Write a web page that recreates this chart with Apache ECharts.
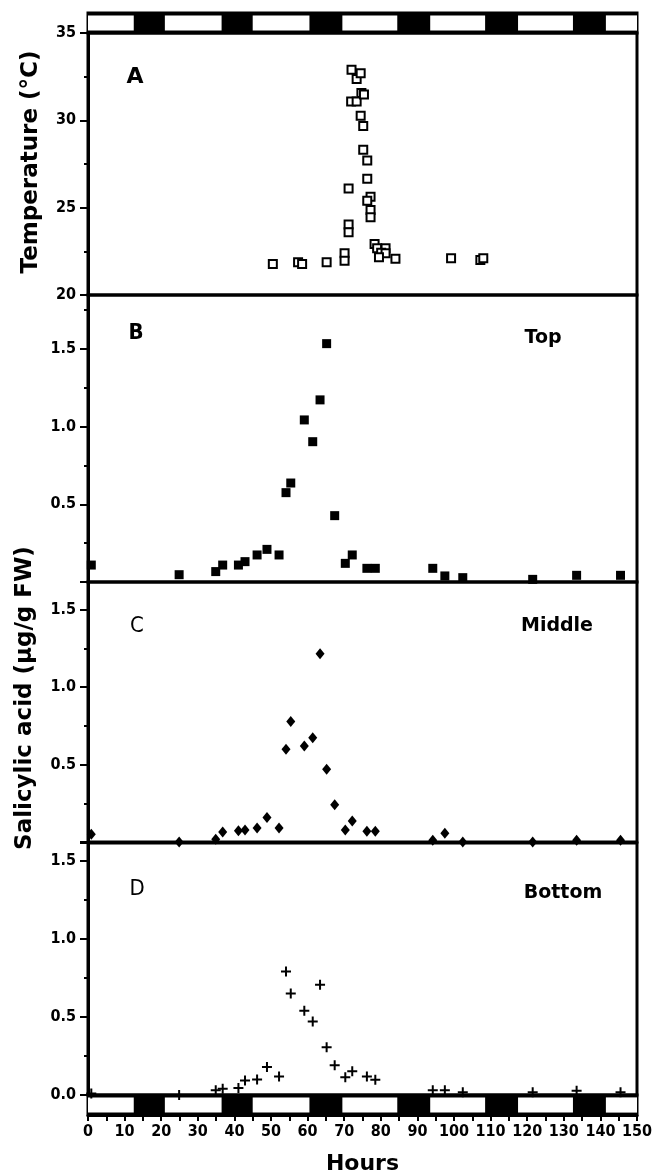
<!DOCTYPE html>
<html lang="en">
<head>
<meta charset="UTF-8">
<title>salicylic acid</title>
<script src="https://cdn.jsdelivr.net/npm/echarts@6/dist/echarts.min.js"></script>
<style>
html, body { margin: 0; padding: 0; background: #fff; }
#main { width: 654px; height: 1173px; }
</style>
</head>
<body>
<div id="main"></div>
<script>
// panel A: temperature readings
var tempHours = [50.5, 57.4, 58.5, 65.2, 70.1, 70.1, 71.2, 71.2, 71.2, 72.0, 73.4, 74.5, 71.9, 73.4, 74.7, 75.4,
    74.5, 75.2, 75.2, 76.3, 76.3, 77.2, 76.3, 77.2, 77.2, 78.3, 79.0, 81.3, 80.1, 81.3, 79.5, 84.0, 99.2, 107.2, 108.0];
var tempValues = [21.78, 21.87, 21.78, 21.88, 22.39, 21.96, 26.1, 24.03, 23.59, 32.9, 32.36, 32.7, 31.08, 31.08, 31.56, 31.48,
    30.26, 29.68, 28.31, 27.7, 26.66, 25.63, 25.4, 24.87, 24.45, 22.92, 22.67, 22.67, 22.42, 22.39, 22.16, 22.08, 22.1, 22.0, 22.1];

// panels B-D: salicylic acid, same sampling times
var saHours = [0.9, 24.9, 34.9, 36.8, 41.1, 42.9, 46.2, 48.9, 52.2, 54.1, 55.4, 59.1, 61.4, 63.4, 65.2, 67.4,
    70.3, 72.2, 76.2, 78.5, 94.2, 97.5, 102.4, 121.5, 133.5, 145.5];
var topValues = [0.109, 0.047, 0.067, 0.109, 0.109, 0.131, 0.174, 0.21, 0.174, 0.575, 0.637, 1.043, 0.903, 1.172, 1.534, 0.427,
    0.12, 0.174, 0.088, 0.088, 0.088, 0.039, 0.028, 0.017, 0.043, 0.043];
var middleValues = [0.05, 0.0, 0.017, 0.065, 0.072, 0.078, 0.091, 0.159, 0.091, 0.6, 0.778, 0.62, 0.674, 1.217, 0.47, 0.241,
    0.078, 0.135, 0.07, 0.07, 0.011, 0.057, 0.0, 0.0, 0.011, 0.011];
var bottomValues = [0.01, 0.0, 0.03, 0.04, 0.045, 0.093, 0.1, 0.18, 0.119, 0.79, 0.65, 0.54, 0.47, 0.705, 0.305, 0.19,
    0.114, 0.152, 0.119, 0.097, 0.03, 0.03, 0.017, 0.017, 0.028, 0.017];

// dark periods of the light cycle (hours)
var darkStart = [12.5, 36.5, 60.5, 84.5, 108.5, 132.5];
var darkEnd = [21, 45, 69.5, 93.5, 117.5, 141.5];

var panelLetters = ['A', 'B', 'C', 'D'];
var panelNames = ['Top', 'Middle', 'Bottom'];

var FONT = "'DejaVu Sans Condensed','Liberation Sans Narrow','DejaVu Sans',sans-serif";
var FONT_W = "'DejaVu Sans',sans-serif";

function zip(xs, ys) {
    var out = [];
    for (var i = 0; i < xs.length; i++) out.push([xs[i], ys[i]]);
    return out;
}

// white boxes = light periods
var lightAreas = [];
var prev = 0;
for (var i = 0; i < darkStart.length; i++) {
    lightAreas.push([{xAxis: prev, yAxis: 0.12}, {xAxis: darkStart[i], yAxis: 0.88}]);
    prev = darkEnd[i];
}
lightAreas.push([{xAxis: prev, yAxis: 0.12}, {xAxis: 150, yAxis: 0.88}]);

function halfFmt(withZero) {
    return function (v) {
        var k = v * 2;
        if (Math.abs(k - Math.round(k)) > 1e-6) return '';
        if (v === 0 && !withZero) return '';
        return v.toFixed(1);
    };
}

function majorY(grid, min, max, interval, fmt) {
    return {
        type: 'value', gridIndex: grid, position: 'left', min: min, max: max, interval: interval,
        axisLine: {show: true, lineStyle: {color: '#000', width: 3}},
        axisTick: {show: true, length: 8, lineStyle: {color: '#000', width: 2}},
        axisLabel: {show: true, color: '#000', fontFamily: FONT, fontWeight: 'bold', fontSize: 16, margin: 12, formatter: fmt},
        splitLine: {show: false}
    };
}
function minorY(grid, min, max, interval) {
    return {
        type: 'value', gridIndex: grid, position: 'left', min: min, max: max, interval: interval,
        axisLine: {show: false},
        axisTick: {show: true, length: 4, lineStyle: {color: '#000', width: 2}},
        axisLabel: {show: false},
        splitLine: {show: false}
    };
}
function hiddenX(grid) {
    return {type: 'value', gridIndex: grid, min: 0, max: 150, show: false, splitLine: {show: false}};
}

var gridBase = {left: 88, width: 549, show: true, borderColor: '#000', borderWidth: 3, containLabel: false, outerBoundsMode: 'none'};
function grid(top, height, bg) {
    var g = Object.assign({}, gridBase, {top: top, height: height});
    g.backgroundColor = bg || 'transparent';
    return g;
}

var option = {
    animation: false,
    backgroundColor: '#fff',
    grid: [
        grid(13, 20, '#000'),
        grid(33, 262),
        grid(295, 287),
        grid(582, 260),
        grid(843, 252),
        grid(1095, 20, '#000')
    ],
    xAxis: [
        hiddenX(0), hiddenX(1), hiddenX(2), hiddenX(3), hiddenX(4),
        {
            type: 'value', gridIndex: 5, min: 0, max: 150, interval: 5, position: 'bottom',
            axisLine: {show: true, lineStyle: {color: '#000', width: 3}},
            axisTick: {show: true, length: 6, lineStyle: {color: '#000', width: 2}},
            axisLabel: {
                color: '#000', fontFamily: FONT, fontWeight: 'bold', fontSize: 16, margin: 9,
                formatter: function (v) { return v % 10 === 0 ? String(v) : ''; }
            },
            splitLine: {show: false},
            name: 'Hours', nameLocation: 'middle', nameGap: 38,
            nameTextStyle: {color: '#000', fontFamily: FONT_W, fontWeight: 'bold', fontSize: 22}
        }
    ],
    yAxis: [
        {type: 'value', gridIndex: 0, min: 0, max: 1, show: false},
        majorY(1, 20, 35, 5, function (v) { return v % 5 === 0 ? String(v) : ''; }),
        minorY(1, 20, 35, 2.5),
        majorY(2, 0, 1.847, 0.5, halfFmt(false)),
        minorY(2, 0, 1.847, 0.25),
        majorY(3, 0, 1.68, 0.5, halfFmt(false)),
        minorY(3, 0, 1.68, 0.25),
        majorY(4, 0, 1.613, 0.5, halfFmt(true)),
        minorY(4, 0, 1.613, 0.25),
        {type: 'value', gridIndex: 5, min: 0, max: 1, show: false}
    ],
    series: [
        {
            type: 'scatter', xAxisIndex: 0, yAxisIndex: 0, data: [], silent: true,
            markArea: {silent: true, itemStyle: {color: '#fff', borderWidth: 0}, data: lightAreas}
        },
        {
            type: 'scatter', xAxisIndex: 5, yAxisIndex: 9, data: [], silent: true,
            markArea: {silent: true, itemStyle: {color: '#fff', borderWidth: 0}, data: lightAreas}
        },
        {
            name: 'Temperature', type: 'scatter', xAxisIndex: 1, yAxisIndex: 1,
            symbol: 'rect', symbolSize: 8, clip: false,
            itemStyle: {color: '#fff', borderColor: '#000', borderWidth: 2, opacity: 1},
            data: zip(tempHours, tempValues)
        },
        {
            name: 'Top', type: 'scatter', xAxisIndex: 2, yAxisIndex: 3,
            symbol: 'rect', symbolSize: 9, clip: false,
            itemStyle: {color: '#000', opacity: 1},
            data: zip(saHours, topValues)
        },
        {
            name: 'Middle', type: 'scatter', xAxisIndex: 3, yAxisIndex: 5,
            symbol: 'diamond', symbolSize: [9, 11], clip: false,
            itemStyle: {color: '#000', opacity: 1},
            data: zip(saHours, middleValues)
        },
        {
            name: 'Bottom', type: 'scatter', xAxisIndex: 4, yAxisIndex: 7,
            symbol: 'path://M4,0H6V4H10V6H6V10H4V6H0V4H4Z', symbolSize: 10, clip: false,
            itemStyle: {color: '#000', opacity: 1},
            data: zip(saHours, bottomValues)
        }
    ],
    graphic: [
        {type: 'text', x: 31, y: 162, rotation: Math.PI / 2,
            style: {text: 'Temperature (°C)', font: "bold 23px " + FONT_W, fill: '#000', align: 'center', verticalAlign: 'middle'}},
        {type: 'text', x: 25, y: 698, rotation: Math.PI / 2,
            style: {text: 'Salicylic acid (µg/g FW)', font: "bold 23px " + FONT_W, fill: '#000', align: 'center', verticalAlign: 'middle'}},
        {type: 'text', x: 135, y: 77, style: {text: panelLetters[0], font: "bold 22px " + FONT_W, fill: '#000', align: 'center', verticalAlign: 'middle'}},
        {type: 'text', x: 136, y: 333, style: {text: panelLetters[1], font: "bold 22px " + FONT, fill: '#000', align: 'center', verticalAlign: 'middle'}},
        {type: 'text', x: 137, y: 626, style: {text: panelLetters[2], font: "22px " + FONT, fill: '#000', align: 'center', verticalAlign: 'middle'}},
        {type: 'text', x: 137, y: 889, style: {text: panelLetters[3], font: "22px " + FONT, fill: '#000', align: 'center', verticalAlign: 'middle'}},
        {type: 'text', x: 543, y: 338, style: {text: panelNames[0], font: "bold 19px " + FONT_W, fill: '#000', align: 'center', verticalAlign: 'middle'}},
        {type: 'text', x: 557, y: 626, style: {text: panelNames[1], font: "bold 19px " + FONT_W, fill: '#000', align: 'center', verticalAlign: 'middle'}},
        {type: 'text', x: 563, y: 893, style: {text: panelNames[2], font: "bold 19px " + FONT_W, fill: '#000', align: 'center', verticalAlign: 'middle'}}
    ]
};

var chart = echarts.init(document.getElementById('main'));
chart.setOption(option);
</script>
</body>
</html>
